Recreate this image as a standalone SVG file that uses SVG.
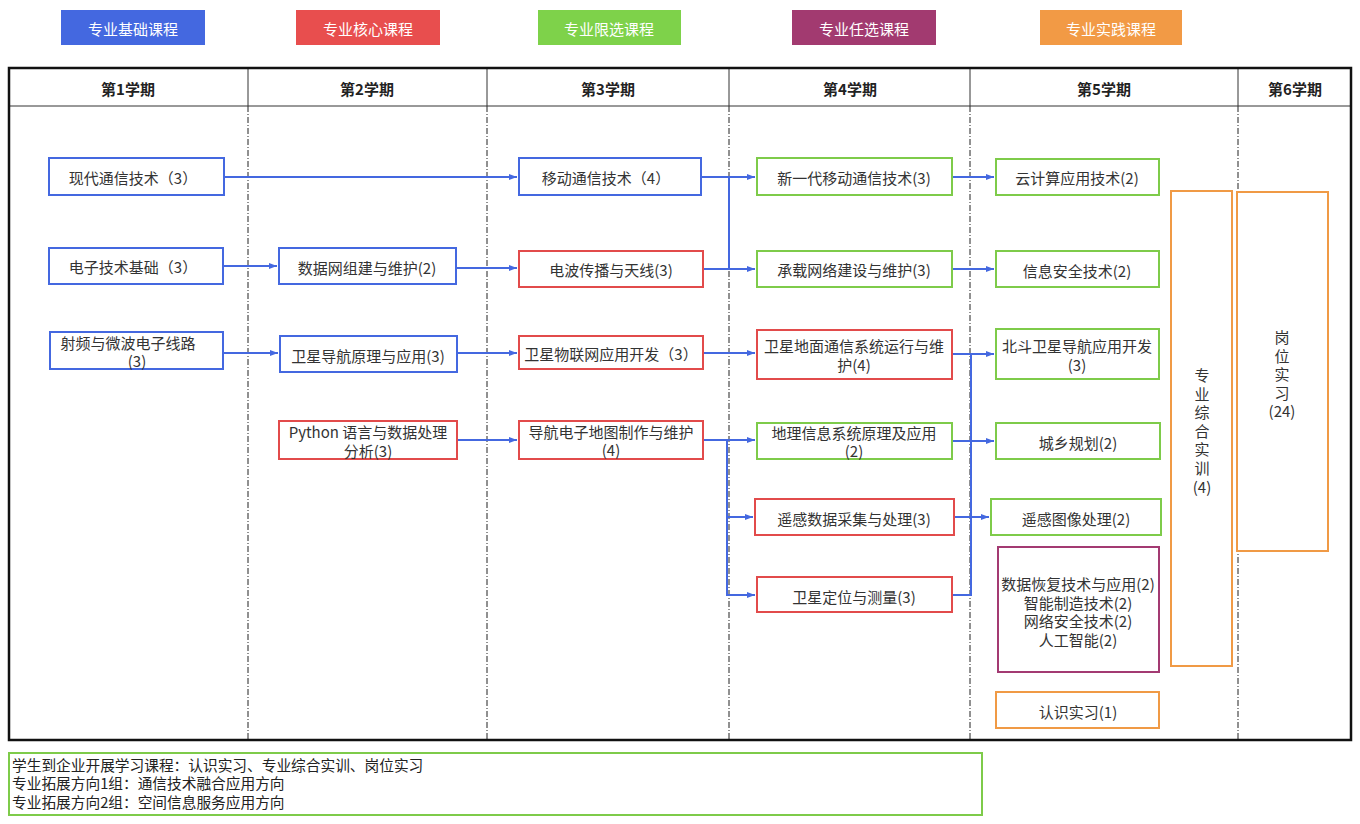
<svg xmlns="http://www.w3.org/2000/svg" width="1360" height="824" viewBox="0 0 1360 824">
<defs>
<marker id="arr" markerUnits="userSpaceOnUse" markerWidth="9" markerHeight="7" refX="8" refY="3.5" orient="auto"><path d="M0,0.5 L8,3.5 L0,6.5 z" fill="#4468E0"/></marker>
<style>
text{font-family:"Noto Sans CJK SC","Noto Sans",sans-serif;font-size:15px;fill:#333;text-anchor:middle;dominant-baseline:central}
.lg text{fill:#fff}
.hd{font-weight:bold;fill:#222}
.box{fill:#fff;stroke-width:2}
.b{stroke:#4468E0}.r{stroke:#E24B4B}.g{stroke:#7ECB4A}.p{stroke:#A33A72}.o{stroke:#F09A45}
.sep{stroke:#222;stroke-width:1;stroke-dasharray:6 2 1 2}
.c{fill:none;stroke:#4468E0;stroke-width:2}
.note{text-anchor:start;font-size:14.7px;fill:#222}
</style>
</defs>
<rect width="1360" height="824" fill="#fff"/>
<g id="legend" class="lg">
<rect x="61" y="10" width="144" height="35" fill="#4468E0"/><text x="133" y="28">专业基础课程</text>
<rect x="296" y="10" width="144" height="35" fill="#E84E4E"/><text x="368" y="28">专业核心课程</text>
<rect x="538" y="10" width="143" height="35" fill="#7ED24A"/><text x="609" y="28">专业限选课程</text>
<rect x="792" y="10" width="144" height="35" fill="#A23A70"/><text x="864" y="28">专业任选课程</text>
<rect x="1040" y="10" width="142" height="35" fill="#F29A45"/><text x="1111" y="28">专业实践课程</text>
</g>
<g id="table">
<line class="sep" x1="248" y1="106" x2="248" y2="740"/>
<line class="sep" x1="487" y1="106" x2="487" y2="740"/>
<line class="sep" x1="729" y1="106" x2="729" y2="740"/>
<line class="sep" x1="970" y1="106" x2="970" y2="740"/>
<line class="sep" x1="1238" y1="106" x2="1238" y2="740"/>
<g stroke="#333" stroke-width="1">
<line x1="248" y1="68" x2="248" y2="106"/><line x1="487" y1="68" x2="487" y2="106"/><line x1="729" y1="68" x2="729" y2="106"/><line x1="970" y1="68" x2="970" y2="106"/><line x1="1238" y1="68" x2="1238" y2="106"/>
<line x1="9" y1="106" x2="1351" y2="106"/>
</g>
<rect x="9" y="68" width="1342" height="672" fill="none" stroke="#111" stroke-width="2.5"/>
<text class="hd" x="128" y="88">第1学期</text>
<text class="hd" x="367" y="88">第2学期</text>
<text class="hd" x="608" y="88">第3学期</text>
<text class="hd" x="850" y="88">第4学期</text>
<text class="hd" x="1104" y="88">第5学期</text>
<text class="hd" x="1295" y="88">第6学期</text>
</g>
<g id="connectors">
<path class="c" d="M224,177 H517" marker-end="url(#arr)"/>
<path class="c" d="M223,266 H277" marker-end="url(#arr)"/>
<path class="c" d="M456,268 H517" marker-end="url(#arr)"/>
<path class="c" d="M223,353 H278" marker-end="url(#arr)"/>
<path class="c" d="M457,353 H517" marker-end="url(#arr)"/>
<path class="c" d="M457,440 H517" marker-end="url(#arr)"/>
<path class="c" d="M701,177 H755" marker-end="url(#arr)"/>
<path class="c" d="M703,269 H755" marker-end="url(#arr)"/>
<path class="c" d="M729,177 V269"/>
<path class="c" d="M703,353 H755" marker-end="url(#arr)"/>
<path class="c" d="M703,440 H755" marker-end="url(#arr)"/>
<path class="c" d="M727,440 V595 H755" marker-end="url(#arr)"/>
<path class="c" d="M727,517 H753" marker-end="url(#arr)"/>
<path class="c" d="M952,177 H994" marker-end="url(#arr)"/>
<path class="c" d="M952,269 H994" marker-end="url(#arr)"/>
<path class="c" d="M952,354 H994" marker-end="url(#arr)"/>
<path class="c" d="M952,441 H994" marker-end="url(#arr)"/>
<path class="c" d="M954,517 H989" marker-end="url(#arr)"/>
<path class="c" d="M952,595 H971 V354"/>
</g>
<g id="n1"><rect class="box b" x="49" y="158" width="175" height="37"/><text x="133" y="177">现代通信技术（3）</text></g>
<g id="n2"><rect class="box b" x="49" y="248" width="174" height="36"/><text x="133" y="266">电子技术基础（3）</text></g>
<g id="n3"><rect class="box b" x="50" y="332" width="173" height="37"/><text><tspan x="128" y="341.5">射频与微波电子线路</tspan><tspan x="137" dy="18.6">(3)</tspan></text></g>
<g id="n4"><rect class="box b" x="279" y="248" width="177" height="36"/><text x="367" y="267">数据网组建与维护(2)</text></g>
<g id="n5"><rect class="box b" x="280" y="336" width="177" height="36"/><text x="368" y="355">卫星导航原理与应用(3)</text></g>
<g id="n6"><rect class="box r" x="279" y="421" width="178" height="38"/><text><tspan x="368" y="431">Python 语言与数据处理</tspan><tspan x="368" dy="18.6">分析(3)</tspan></text></g>
<g id="n7"><rect class="box b" x="519" y="158" width="182" height="37"/><text x="606" y="177">移动通信技术（4）</text></g>
<g id="n8"><rect class="box r" x="519" y="251" width="184" height="36"/><text x="611" y="269">电波传播与天线(3)</text></g>
<g id="n9"><rect class="box r" x="519" y="336" width="184" height="33"/><text x="611" y="353">卫星物联网应用开发（3）</text></g>
<g id="n10"><rect class="box r" x="519" y="421" width="184" height="38"/><text><tspan x="611" y="430.5">导航电子地图制作与维护</tspan><tspan x="611" dy="18.6">(4)</tspan></text></g>
<g id="n11"><rect class="box g" x="757" y="158" width="195" height="37"/><text x="854" y="177">新一代移动通信技术(3)</text></g>
<g id="n12"><rect class="box g" x="757" y="251" width="195" height="36"/><text x="854" y="269">承载网络建设与维护(3)</text></g>
<g id="n13"><rect class="box r" x="757" y="330" width="195" height="49"/><text><tspan x="854" y="345">卫星地面通信系统运行与维</tspan><tspan x="854" dy="19">护(4)</tspan></text></g>
<g id="n14"><rect class="box g" x="757" y="423" width="195" height="36"/><text><tspan x="854" y="431.5">地理信息系统原理及应用</tspan><tspan x="854" dy="18.6">(2)</tspan></text></g>
<g id="n15"><rect class="box r" x="755" y="499" width="199" height="36"/><text x="854" y="518">遥感数据采集与处理(3)</text></g>
<g id="n16"><rect class="box r" x="757" y="577" width="195" height="35"/><text x="854" y="596">卫星定位与测量(3)</text></g>
<g id="n17"><rect class="box g" x="996" y="159" width="163" height="36"/><text x="1077" y="177">云计算应用技术(2)</text></g>
<g id="n18"><rect class="box g" x="996" y="251" width="163" height="36"/><text x="1077" y="270">信息安全技术(2)</text></g>
<g id="n19"><rect class="box g" x="996" y="329" width="163" height="50"/><text><tspan x="1077" y="345">北斗卫星导航应用开发</tspan><tspan x="1077" dy="19">(3)</tspan></text></g>
<g id="n20"><rect class="box g" x="996" y="423" width="164" height="36"/><text x="1078" y="442">城乡规划(2)</text></g>
<g id="n21"><rect class="box g" x="991" y="499" width="170" height="36"/><text x="1076" y="518">遥感图像处理(2)</text></g>
<g id="n22"><rect class="box p" x="998" y="547" width="161" height="125"/><text><tspan x="1078" y="583">数据恢复技术与应用(2)</tspan><tspan x="1078" dy="18.6">智能制造技术(2)</tspan><tspan x="1078" dy="18.6">网络安全技术(2)</tspan><tspan x="1078" dy="18.6">人工智能(2)</tspan></text></g>
<g id="n23"><rect class="box o" x="996" y="692" width="163" height="36"/><text x="1078" y="711">认识实习(1)</text></g>
<g id="n24"><rect class="box o" x="1171" y="191" width="61" height="475"/><text><tspan x="1202" y="374">专</tspan><tspan x="1202" dy="18.6">业</tspan><tspan x="1202" dy="18.6">综</tspan><tspan x="1202" dy="18.6">合</tspan><tspan x="1202" dy="18.6">实</tspan><tspan x="1202" dy="18.6">训</tspan><tspan x="1202" dy="18.6">(4)</tspan></text></g>
<g id="n25"><rect class="box o" x="1237" y="192" width="91" height="359"/><text><tspan x="1282" y="336">岗</tspan><tspan x="1282" dy="18.6">位</tspan><tspan x="1282" dy="18.6">实</tspan><tspan x="1282" dy="18.6">习</tspan><tspan x="1282" dy="18.6">(24)</tspan></text></g>
<g id="note"><rect x="9" y="753" width="973" height="62" fill="#fff" stroke="#7ECB4A" stroke-width="2"/>
<text class="note"><tspan x="12" y="763.5">学生到企业开展学习课程：认识实习、专业综合实训、岗位实习</tspan><tspan x="12" dy="18.6">专业拓展方向1组：通信技术融合应用方向</tspan><tspan x="12" dy="18.6">专业拓展方向2组：空间信息服务应用方向</tspan></text>
</g>
</svg>
